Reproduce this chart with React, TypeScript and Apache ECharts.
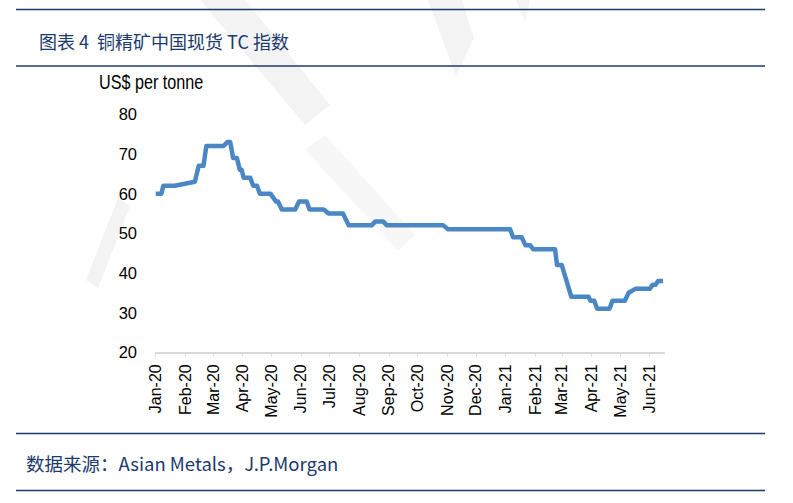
import React, { useRef, useEffect } from 'react';
import * as echarts from 'echarts';

// Copper concentrate China spot TC index, vertices
const dates = [
  '2020-01-01', '2020-01-07', '2020-01-09', '2020-01-21', '2020-02-11', '2020-02-15',
  '2020-02-20', '2020-02-23', '2020-03-12', '2020-03-16', '2020-03-19', '2020-03-22',
  '2020-03-26', '2020-03-29', '2020-03-31', '2020-04-02', '2020-04-09', '2020-04-12',
  '2020-04-16', '2020-04-19', '2020-04-30', '2020-05-06', '2020-05-08', '2020-05-12',
  '2020-05-26', '2020-05-30', '2020-06-07', '2020-06-10', '2020-06-25', '2020-06-30',
  '2020-07-15', '2020-07-21', '2020-08-14', '2020-08-18', '2020-08-26', '2020-08-30',
  '2020-10-28', '2020-11-02', '2021-01-06', '2021-01-09', '2021-01-18', '2021-01-22',
  '2021-01-27', '2021-01-30', '2021-02-22', '2021-02-24', '2021-03-01', '2021-03-06',
  '2021-03-11', '2021-03-29', '2021-03-31', '2021-04-04', '2021-04-07', '2021-04-20',
  '2021-04-23', '2021-05-06', '2021-05-10', '2021-05-17', '2021-06-01', '2021-06-04',
  '2021-06-07', '2021-06-10', '2021-06-15',
];
const tcValues = [
  60, 60, 62, 62, 63, 67,
  67, 72, 72, 73, 73, 69,
  69, 66, 66, 64, 64, 62,
  62, 60, 60, 58, 58, 56,
  56, 58, 58, 56, 56, 55,
  55, 52, 52, 53, 53, 52,
  52, 51, 51, 49, 49, 47,
  47, 46, 46, 42, 42, 38,
  34, 34, 33, 33, 31, 31,
  33, 33, 35, 36, 36, 37,
  37, 38, 38,
];

const monthNames = ['Jan', 'Feb', 'Mar', 'Apr', 'May', 'Jun', 'Jul', 'Aug', 'Sep', 'Oct', 'Nov', 'Dec'];
const tickMonths = [
  '2020-01', '2020-02', '2020-03', '2020-04', '2020-05', '2020-06', '2020-07', '2020-08', '2020-09',
  '2020-10', '2020-11', '2020-12', '2021-01', '2021-02', '2021-03', '2021-04', '2021-05', '2021-06',
];
const yTicks = [20, 30, 40, 50, 60, 70, 80];

const toTime = (s: string) => {
  const [y, m, d] = s.split('-').map(Number);
  return new Date(y, m - 1, d || 1).getTime();
};

const navy = '#1b3a6e';
const watermark = '#f3f3f3';

const App: React.FC = () => {
  const chartRef = useRef<HTMLDivElement>(null);

  useEffect(() => {
    if (!chartRef.current) return;
    const chart = echarts.init(chartRef.current, null, { renderer: 'svg' });
    const tickValues = tickMonths.map(toTime);

    chart.setOption({
      animation: false,
      backgroundColor: '#ffffff',
      grid: { left: 155.7, top: 114.3, width: 508.3, height: 238, containLabel: false },
      graphic: [
        // faint watermark strokes
        { type: 'polygon', silent: true, z: -10, shape: { points: [[200, 0], [245, 0], [330, 105], [305, 125]] }, style: { fill: watermark } },
        { type: 'polygon', silent: true, z: -10, shape: { points: [[305, 150], [325, 135], [415, 235], [398, 250]] }, style: { fill: '#f7f7f7' } },
        { type: 'polygon', silent: true, z: -10, shape: { points: [[428, 0], [462, 0], [474, 38], [456, 76]] }, style: { fill: watermark } },
        { type: 'polygon', silent: true, z: -10, shape: { points: [[516, 0], [530, 0], [525, 22]] }, style: { fill: watermark } },
        { type: 'polygon', silent: true, z: -10, shape: { points: [[118, 198], [130, 206], [98, 288], [86, 280]] }, style: { fill: watermark } },
        // frame lines
        { type: 'line', shape: { x1: 16, y1: 9.5, x2: 765, y2: 9.5 }, style: { stroke: navy, lineWidth: 1.3 } },
        { type: 'line', shape: { x1: 16, y1: 66, x2: 765, y2: 66 }, style: { stroke: navy, lineWidth: 1.3 } },
        { type: 'line', shape: { x1: 16, y1: 433.5, x2: 765, y2: 433.5 }, style: { stroke: navy, lineWidth: 1.3 } },
        { type: 'line', shape: { x1: 16, y1: 490.5, x2: 765, y2: 490.5 }, style: { stroke: navy, lineWidth: 1.3 } },
        {
          type: 'text', x: 39, y: 40.5,
          style: {
            text: '图表 4  铜精矿中国现货 TC 指数', fill: navy, fontSize: 18,
            fontFamily: '"Noto Sans CJK SC", "Noto Sans", sans-serif', verticalAlign: 'middle',
          },
        },
        {
          type: 'text', x: 26, y: 463,
          style: {
            text: '数据来源：Asian Metals，J.P.Morgan', fill: navy, fontSize: 18.5,
            fontFamily: '"Noto Sans CJK SC", "Noto Sans", sans-serif', verticalAlign: 'middle',
          },
        },
        {
          type: 'text', x: 99, y: 82, scaleX: 0.83,
          style: {
            text: 'US$ per tonne', fill: '#000000', fontSize: 19.5,
            fontFamily: '"Liberation Sans", Arial, sans-serif', verticalAlign: 'middle',
          },
        },
      ],
      xAxis: {
        type: 'value',
        min: toTime('2020-01-01'),
        max: toTime('2021-06-16'),
        axisLine: { show: true, lineStyle: { color: '#d9d9d9', width: 2 } },
        axisTick: { show: true, length: 4, lineStyle: { color: '#d9d9d9', width: 1 }, customValues: tickValues },
        axisLabel: {
          customValues: tickValues,
          rotate: 90,
          margin: 12,
          color: '#000000',
          fontSize: 16,
          fontFamily: '"Liberation Sans", Arial, sans-serif',
          hideOverlap: false,
          formatter: (v: number) => {
            const d = new Date(v);
            return `${monthNames[d.getMonth()]}-${String(d.getFullYear()).slice(2)}`;
          },
        },
        splitLine: { show: false },
      },
      yAxis: {
        type: 'value',
        min: yTicks[0],
        max: yTicks[yTicks.length - 1],
        interval: 10,
        axisLine: { show: false },
        axisTick: { show: false },
        splitLine: { show: false },
        axisLabel: {
          margin: 18.7,
          color: '#000000',
          fontSize: 16.5,
          fontFamily: '"Liberation Sans", Arial, sans-serif',
        },
      },
      series: [
        {
          type: 'line',
          data: dates.map((d, i) => [toTime(d), tcValues[i]]),
          symbol: 'none',
          lineStyle: { color: '#4a87c4', width: 4.5, join: 'round' },
          itemStyle: { color: '#4a87c4' },
        },
      ],
    });

    return () => {
      chart.dispose();
    };
  }, []);

  return (
    <div
      ref={chartRef}
      style={{ position: 'absolute', left: 0, top: 0, width: 793, height: 503 }}
    />
  );
};

export default App;
